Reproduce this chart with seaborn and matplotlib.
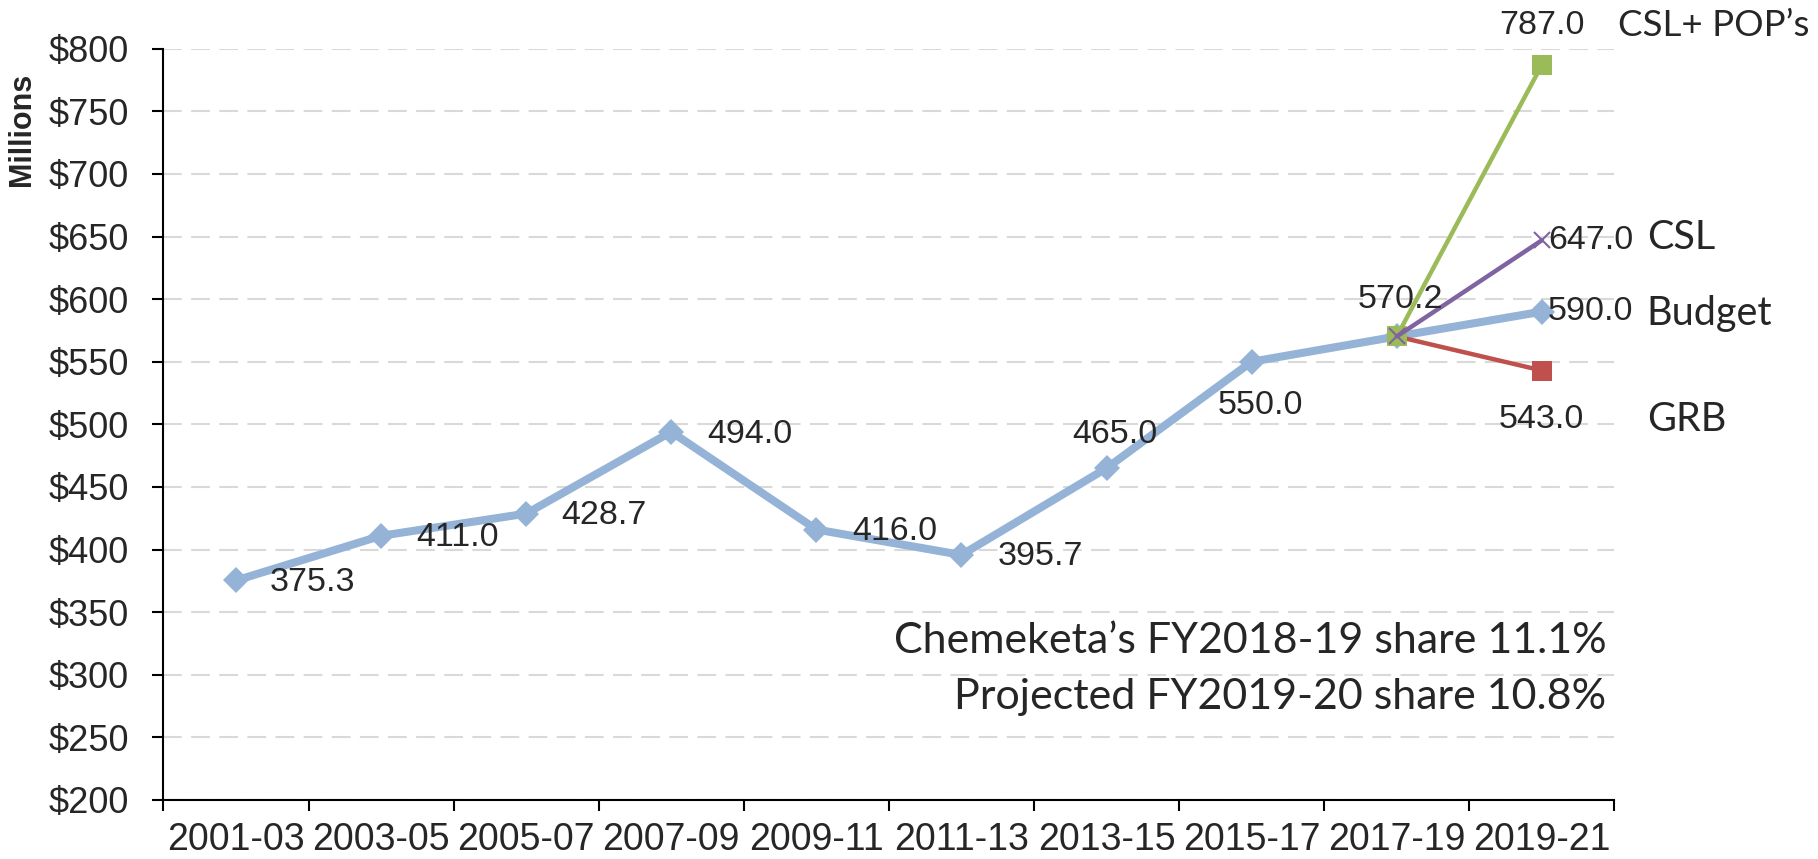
import numpy as np
import seaborn as sns
import matplotlib.pyplot as plt

# data (millions $)
periods = ['2001-03', '2003-05', '2005-07', '2007-09', '2009-11',
           '2011-13', '2013-15', '2015-17', '2017-19', '2019-21']
budget = [375.3, 411.0, 428.7, 494.0, 416.0, 395.7, 465.0, 550.0, 570.2, 590.0]
scenario_periods = ['2017-19', '2019-21']
grb = [570.2, 543.0]
csl = [570.2, 647.0]
csl_pops = [570.2, 787.0]
yticks = list(range(200, 801, 50))
ytick_labels = [f'${v}' for v in yticks]

sns.set_theme(style='ticks')
plt.rcParams['font.family'] = ['Liberation Sans', 'DejaVu Sans']

fig, ax = plt.subplots(figsize=(18.18, 8.59), dpi=100)
fig.subplots_adjust(left=0.0899, right=0.888, top=0.9433, bottom=0.0687)

pos = {p: i for i, p in enumerate(periods)}
x_all = [pos[p] for p in periods]
x_sc = [pos[p] for p in scenario_periods]

# lines
sns.lineplot(x=x_all, y=budget, ax=ax, color='#95B3D7', lw=5.8, marker='D',
             markersize=13.5, markeredgecolor='#95B3D7', markeredgewidth=0, zorder=3)
sns.lineplot(x=x_sc, y=grb, ax=ax, color='#C0504D', lw=3.2, marker='s',
             markersize=14, markeredgecolor='#C0504D', markeredgewidth=0, zorder=4)
sns.lineplot(x=x_sc, y=csl_pops, ax=ax, color='#9BBB59', lw=3.2, marker='s',
             markersize=14, markeredgecolor='#9BBB59', markeredgewidth=0, zorder=5)
sns.lineplot(x=x_sc, y=csl, ax=ax, color='#8064A2', lw=3.2, marker='x',
             markersize=12, markeredgecolor='#8064A2', markeredgewidth=1.5, zorder=6)

# data labels (offset in pixels, alignment)
lab_fs = 24.5
budget_offsets = [(34, -2, 'left'), (35, -2, 'left'), (35, -2, 'left'), (36, -3, 'left'),
                  (36, -2, 'left'), (36, -2, 'left'), (8, 34, 'center'), (9, -44, 'center'),
                  (4, 37, 'center'), (6, 0, 'left')]
for x, v, (dx, dy, ha) in zip(x_all, budget, budget_offsets):
    ax.annotate(f'{v:.1f}', (x, v), xytext=(dx, dy), textcoords='offset pixels',
                ha=ha, va='center', fontsize=lab_fs, zorder=7)
ax.annotate(f'{grb[1]:.1f}', (x_sc[1], grb[1]), xytext=(0, -49), textcoords='offset pixels',
            ha='center', va='center', fontsize=lab_fs)
ax.annotate(f'{csl[1]:.1f}', (x_sc[1], csl[1]), xytext=(6, 0), textcoords='offset pixels',
            ha='left', va='center', fontsize=lab_fs)
ax.annotate(f'{csl_pops[1]:.1f}', (x_sc[1], csl_pops[1]), xytext=(0, 39), textcoords='offset pixels',
            ha='center', va='center', fontsize=lab_fs)

# series names at the right
name_font = ['Lato', 'DejaVu Sans']
for name, v, dx, dy, fs in [('CSL+ POP\u2019s', csl_pops[1], 76, 39, 26.5), ('CSL', csl[1], 105, 3, 28.5),
                            ('Budget', budget[-1], 105, -2, 28.5), ('GRB', grb[1], 105, -49, 28.5)]:
    ax.annotate(name, (x_sc[1], v), xytext=(dx, dy), textcoords='offset pixels',
                ha='left', va='center', fontsize=fs, family=name_font,
                annotation_clip=False)

ax.text(0.9945, 0.2116, 'Chemeketa\u2019s FY2018-19 share 11.1%', transform=ax.transAxes,
        ha='right', va='center', fontsize=31, family=name_font)
ax.text(0.9945, 0.137, 'Projected FY2019-20 share 10.8%', transform=ax.transAxes,
        ha='right', va='center', fontsize=31, family=name_font)

# axes styling
ax.set_xlim(-0.5, len(periods) - 0.5)
ax.set_ylim(200, 800)
ax.set_yticks(yticks, ytick_labels)
ax.set_xticks(x_all, periods)
ax.set_xticks(np.arange(-0.5, len(periods), 1), minor=True)
ax.tick_params(axis='x', which='major', length=0, pad=16, labelsize=27)
ax.tick_params(axis='x', which='minor', length=8, width=1.5, direction='out', color='black')
ax.tick_params(axis='y', length=8, width=1.5, pad=17, labelsize=26, color='black')
ax.set_xlabel('')
ax.set_ylabel('Millions', fontsize=22, fontweight='bold')
ax.yaxis.set_label_coords(-0.087, 0.893)
ax.yaxis.grid(True, color='#D9D9D9', lw=1.5, ls=(0, (9, 4.5)))
ax.set_axisbelow(True)
sns.despine(ax=ax)
for s in ['left', 'bottom']:
    ax.spines[s].set_linewidth(1.5)
    ax.spines[s].set_color('black')

fig.savefig('out.png', dpi=100)
